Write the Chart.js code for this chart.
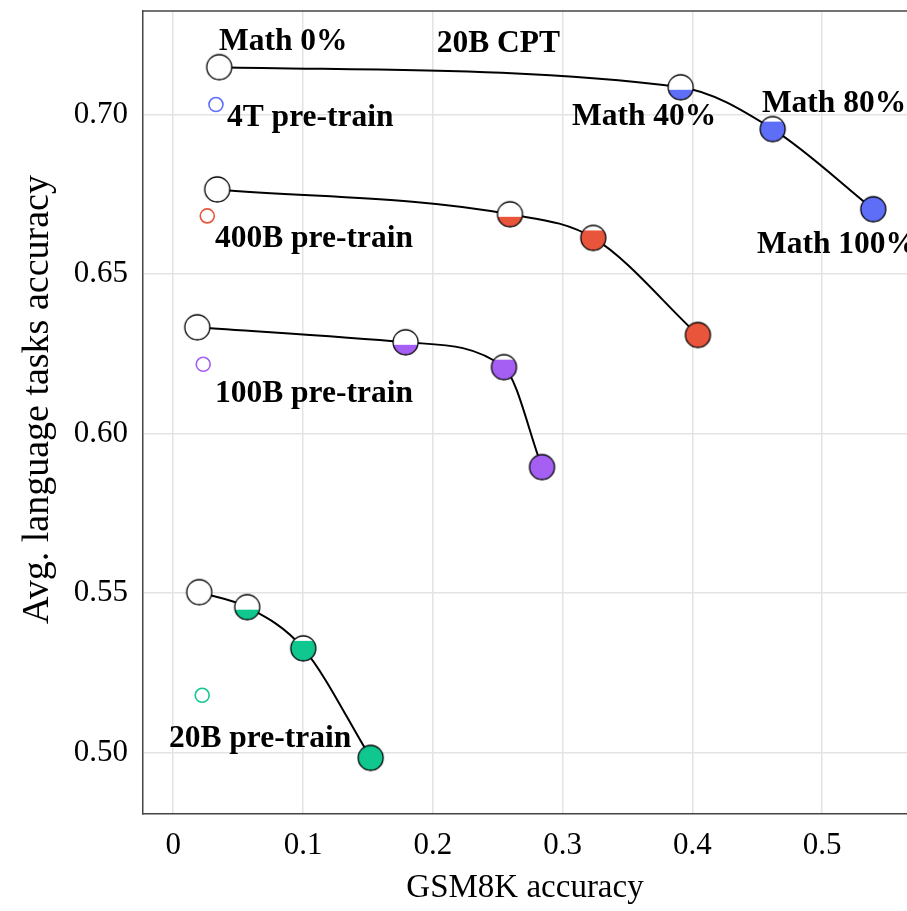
<!DOCTYPE html>
<html>
<head>
<meta charset="utf-8">
<script src="https://cdn.jsdelivr.net/npm/chart.js@4/dist/chart.umd.min.js"></script>
<style>
  html, body { margin: 0; padding: 0; background: #fff; overflow: hidden; }
  #wrap { width: 907px; height: 911px; position: relative; }
</style>
</head>
<body>
<div id="wrap"><canvas id="c" width="907" height="911"></canvas></div>
<script>
// Share of math data in the continued-pretraining mix, one entry per point on each curve
const mathShares = [0, 0.4, 0.8, 1.0];
const mathLabels = ['Math 0%', 'Math 40%', 'Math 80%', 'Math 100%'];

// Axis ticks
const xTicks = [0, 0.1, 0.2, 0.3, 0.4, 0.5];
const yTicks = [0.50, 0.55, 0.60, 0.65, 0.70];

// GSM8K accuracy / average language accuracy per model
const cpt20B_gsm  = [0.0354, 0.3909, 0.4618, 0.5393];
const cpt20B_lang = [0.7148, 0.7085, 0.6954, 0.6703];
const pt400B_gsm  = [0.0339, 0.2594, 0.3236, 0.4042];
const pt400B_lang = [0.6765, 0.6687, 0.6613, 0.6309];
const pt100B_gsm  = [0.0185, 0.1790, 0.2548, 0.2841];
const pt100B_lang = [0.6333, 0.6286, 0.6208, 0.5895];
const pt20B_gsm   = [0.0200, 0.0570, 0.1002, 0.1521];
const pt20B_lang  = [0.5503, 0.5456, 0.5327, 0.4984];

// Reference pre-trained checkpoints (small hollow markers)
const baseNames = ['4T pre-train', '400B pre-train', '100B pre-train', '20B pre-train'];
const base_gsm  = [0.0329, 0.0262, 0.0231, 0.0223];
const base_lang = [0.7031, 0.6682, 0.6217, 0.5180];

const COLORS = { blue: '#5e6ef6', red: '#e8553b', purple: '#a55ff2', green: '#0fc78f' };

// Text annotations, anchored in data units (left edge, alphabetic baseline)
const notes = [
  { text: mathLabels[0], x: 0.0352, y: 0.7201 },
  { text: '20B CPT',     x: 0.2030, y: 0.7197 },
  { text: mathLabels[1], x: 0.3072, y: 0.6966 },
  { text: mathLabels[2], x: 0.4535, y: 0.7007 },
  { text: mathLabels[3], x: 0.4497, y: 0.6565 },
  { text: baseNames[0],  x: 0.0414, y: 0.6963 },
  { text: baseNames[1],  x: 0.0321, y: 0.6583 },
  { text: baseNames[2],  x: 0.0321, y: 0.6099 },
  { text: baseNames[3],  x: -0.0033, y: 0.5018 }
];

const yTitle = 'Avg. language tasks accuracy';
const serif = '"Liberation Serif", "Times New Roman", serif';

// Marker: white disc, bottom part filled with the series colour by the math share
function marker(color, frac) {
  const r = 12.5, size = 29, c = size / 2;
  const cv = document.createElement('canvas');
  cv.width = size; cv.height = size;
  const g = cv.getContext('2d');
  g.beginPath(); g.arc(c, c, r, 0, Math.PI * 2);
  g.fillStyle = '#ffffff'; g.fill();
  if (frac > 0) {
    g.save();
    g.beginPath(); g.rect(0, c + r - 2 * r * frac, size, size); g.clip();
    g.beginPath(); g.arc(c, c, r, 0, Math.PI * 2);
    g.fillStyle = color; g.fill();
    g.restore();
  }
  g.beginPath(); g.arc(c, c, r, 0, Math.PI * 2);
  g.lineWidth = 1.3; g.strokeStyle = '#000'; g.stroke();
  return cv;
}

function curve(xs, ys, color) {
  return {
    type: 'line',
    data: xs.map((x, i) => ({ x, y: ys[i] })),
    borderColor: '#000',
    borderWidth: 2,
    cubicInterpolationMode: 'monotone',
    pointStyle: mathShares.map(f => marker(color, f)),
    pointRadius: 13,
    fill: false
  };
}

const baseColors = [COLORS.blue, COLORS.red, COLORS.purple, COLORS.green];
const baseSet = {
  type: 'scatter',
  data: base_gsm.map((x, i) => ({ x, y: base_lang[i] })),
  showLine: false,
  pointStyle: 'circle',
  pointRadius: 7,
  pointBorderWidth: 1.6,
  pointBorderColor: baseColors,
  pointBackgroundColor: '#ffffff'
};

const frameAndNotes = {
  id: 'frameAndNotes',
  beforeDatasetsDraw(chart) {
    const { ctx, chartArea: a } = chart;
    ctx.save();
    ctx.strokeStyle = '#444';
    ctx.lineWidth = 1.5;
    ctx.beginPath();
    ctx.moveTo(a.left, a.top);
    ctx.lineTo(a.right + 2, a.top);
    ctx.stroke();
    // vertical axis title, rotated, sitting a little above the plot's mid-height
    ctx.translate(38, (a.top + a.bottom) / 2 - 13);
    ctx.rotate(-Math.PI / 2);
    ctx.font = '38px ' + serif;
    ctx.fillStyle = '#000';
    ctx.textAlign = 'center';
    ctx.textBaseline = 'middle';
    ctx.fillText(yTitle, 0, 0);
    ctx.restore();
  },
  afterDatasetsDraw(chart) {
    const { ctx, scales } = chart;
    ctx.save();
    ctx.font = 'bold 31.5px ' + serif;
    ctx.fillStyle = '#000';
    ctx.textAlign = 'left';
    ctx.textBaseline = 'alphabetic';
    notes.forEach(n => {
      ctx.fillText(n.text, scales.x.getPixelForValue(n.x), scales.y.getPixelForValue(n.y));
    });
    ctx.restore();
  }
};

new Chart(document.getElementById('c'), {
  data: {
    datasets: [
      curve(cpt20B_gsm, cpt20B_lang, COLORS.blue),
      curve(pt400B_gsm, pt400B_lang, COLORS.red),
      curve(pt100B_gsm, pt100B_lang, COLORS.purple),
      curve(pt20B_gsm, pt20B_lang, COLORS.green),
      baseSet
    ]
  },
  options: {
    responsive: false,
    animation: false,
    events: [],
    layout: { autoPadding: false, padding: { top: 11, right: 0, bottom: 0, left: 0 } },
    plugins: { legend: { display: false }, tooltip: { enabled: false } },
    scales: {
      x: {
        type: 'linear',
        min: -0.0233,
        max: 0.5653,
        afterBuildTicks: s => { s.ticks = xTicks.map(v => ({ value: v })); },
        afterFit: s => { s.height = 97; s.paddingLeft = 0; s.paddingRight = 0; },
        grid: { color: '#e3e3e3', lineWidth: 1.5, drawTicks: false },
        border: { display: true, color: '#444', width: 1.5 },
        ticks: {
          padding: 13,
          color: '#000',
          font: { family: serif, size: 31 },
          callback: v => (v === 0 ? '0' : v.toFixed(1))
        },
        title: {
          display: true,
          text: 'GSM8K accuracy',
          color: '#000',
          font: { family: serif, size: 33 },
          padding: { top: 0, bottom: 3 }
        }
      },
      y: {
        type: 'linear',
        min: 0.4808,
        max: 0.7324,
        afterBuildTicks: s => { s.ticks = yTicks.map(v => ({ value: v })); },
        afterFit: s => { s.width = 143; s.paddingTop = 0; s.paddingBottom = 0; },
        grid: { color: '#e3e3e3', lineWidth: 1.5, drawTicks: false },
        border: { display: true, color: '#444', width: 1.5 },
        ticks: {
          padding: 15,
          color: '#000',
          font: { family: serif, size: 31 },
          callback: v => v.toFixed(2)
        },
        title: { display: false }
      }
    }
  },
  plugins: [frameAndNotes]
});
</script>
</body>
</html>
